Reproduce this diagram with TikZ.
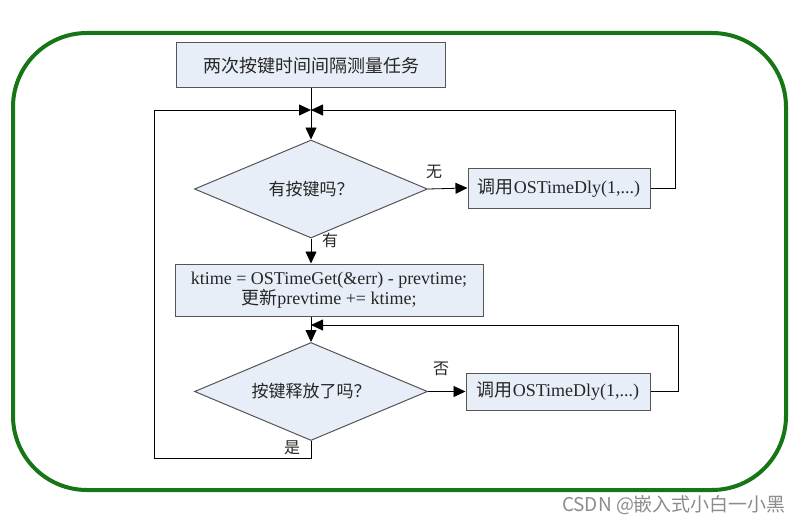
\documentclass[tikz,border=0pt]{standalone}
\usepackage{fontspec}
\setmainfont{Liberation Serif}
\newfontfamily\cjk{Noto Sans CJK SC}
\usetikzlibrary{shapes.geometric, arrows.meta, calc}

\definecolor{boxfill}{RGB}{232,238,248}
\definecolor{boxline}{RGB}{85,85,85}
\definecolor{framegreen}{RGB}{22,118,22}
\definecolor{markgray}{RGB}{140,140,140}

\tikzset{
	procbox/.style={draw=boxline, fill=boxfill, line width=1pt, inner sep=0pt, align=center, text=black!85, font=\fontsize{18}{17}\selectfont},
	testbox/.style={diamond, draw=boxline, fill=boxfill, line width=1pt, inner sep=0pt, aspect=2.4, minimum width=233pt, minimum height=98pt, text=black!85, font=\cjk\fontsize{17}{17}\selectfont},
	lbl/.style={inner sep=0pt, text=black!85, font=\cjk\fontsize{16}{16}\selectfont},
	flow/.style={draw=black, line width=0.8pt},
	flowarrow/.style={flow, -{Triangle[length=12pt,width=11pt]}}
}

\begin{document}
\begin{tikzpicture}[x=1pt, y=-1pt]
			\def\mainx{311};
			\def\loopl{154};
			
			\useasboundingbox (0,0) rectangle (805,524);
			\fill[white] (0,0) rectangle (805,524);

			\draw[framegreen, line width=4pt, rounded corners=74pt] (13,33) rectangle (786,490);

			\begin{scope}
				\node[procbox, minimum width=269pt, minimum height=45pt] (task) at (\mainx,65.5) {{\cjk 两次按键时间间隔测量任务}};
				\node[testbox] (ask) at (\mainx,189) {有按键吗？};
				\node[procbox, minimum width=182pt, minimum height=40pt] (dly1) at (559,188) {{\cjk 调用}OSTimeDly(1,...)};
				\node[procbox, minimum width=308pt, minimum height=52pt] (calc) at (329,290) {ktime = OSTimeGet(\&err) - prevtime;\\{\cjk 更新}prevtime += ktime;};
				\node[testbox] (ans) at (\mainx,391.5) {按键释放了吗？};
				\node[procbox, minimum width=184pt, minimum height=37pt] (dly2) at (558,391.5) {{\cjk 调用}OSTimeDly(1,...)};
			\end{scope}

			\coordinate (merge1) at (\mainx,110);
			\coordinate (merge2) at (\mainx,325);
			\coordinate (loop1) at (675,110);
			\coordinate (loop2) at (678,325);
			\coordinate (back) at (\loopl,458);

			\begin{scope}
				\draw[flow] (task.south) -- (merge1);
				\draw[flowarrow] (merge1) -- (ask.north);
				\draw[flowarrow] (ask.east) -- (dly1.west);
				\draw[flowarrow] (dly1.east) -| (loop1) -- (merge1);
				\draw[flowarrow] (ask.south) -- (ask.south |- calc.north);
				\draw[flow] (merge2 |- calc.south) -- (merge2);
				\draw[flowarrow] (merge2) -- (ans.north);
				\draw[flowarrow] (ans.east) -- (dly2.west);
				\draw[flowarrow] (dly2.east) -| (loop2) -- (merge2);
				\draw[flowarrow] (ans.south) |- (back) |- (merge1);
			\end{scope}

			\begin{scope}
				\node[lbl] (nokey) at ([xshift=6pt,yshift=17pt]ask.east) {无};
				\node[lbl] (haskey) at ([xshift=19pt,yshift=-2pt]ask.south) {有};
				\node[lbl] (notyet) at ([xshift=13pt,yshift=23pt]ans.east) {否};
				\node[lbl] (released) at ([xshift=-19pt,yshift=-7pt]ans.south) {是};
			\end{scope}

			\node[text=markgray, inner sep=0pt, font=\cjk\fontsize{19}{19}\selectfont] (csdn) at (674,505) {CSDN @嵌入式小白一小黑};
		\end{tikzpicture}
\end{document}
